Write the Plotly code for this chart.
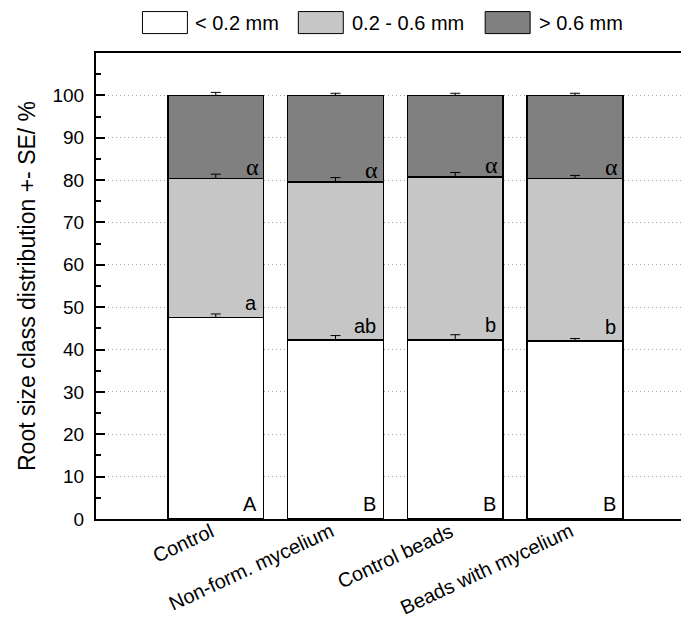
import numpy as np
import plotly.graph_objects as go

# Treatments and root-size-class shares (%), stacked from fine to coarse
treatments = ["Control", "Non-form. mycelium", "Control beads", "Beads with mycelium"]
classes = ["< 0.2 mm", "0.2 - 0.6 mm", "> 0.6 mm"]
fine = [47.6, 42.2, 42.3, 42.0]
medium = [32.8, 37.3, 38.4, 38.4]
coarse = [19.6, 20.5, 19.3, 19.6]
se_fine = [0.8, 1.1, 1.2, 0.6]
se_medium = [1.0, 1.1, 1.1, 0.7]
se_coarse = [0.7, 0.5, 0.5, 0.5]

# Significance letters
letters_total = ["A", "B", "B", "B"]
letters_fine = ["a", "ab", "b", "b"]
letters_coarse = ["\u03b1", "\u03b1", "\u03b1", "\u03b1"]

colors = ["#ffffff", "#c6c6c6", "#808080"]
FONT = "Liberation Sans, Arial, sans-serif"

series = [fine, medium, coarse]
errors = [se_fine, se_medium, se_coarse]
x_idx = list(range(len(treatments)))

fig = go.Figure()
for name, vals, col in zip(classes, series, colors):
    fig.add_trace(go.Bar(
        x=x_idx, y=vals, name=name, width=0.8,
        marker=dict(color=col, line=dict(color="#000000", width=1.5)),
        showlegend=False,
    ))

# Upward error bars at the top of each stacked segment (drawn above the bars)
tops = np.cumsum(np.array(series), axis=0)
for top, se in zip(tops, errors):
    fig.add_trace(go.Scatter(
        x=x_idx, y=top.tolist(), mode="markers",
        marker=dict(size=1, color="rgba(0,0,0,0)"),
        error_y=dict(type="data", symmetric=False, array=se, arrayminus=[0] * len(se),
                     color="#000000", thickness=1, width=5),
        showlegend=False, hoverinfo="skip",
    ))

annotations = []
for i in x_idx:
    annotations.append(dict(x=i + 0.4, y=3.6, xref="x", yref="y", text=letters_total[i],
                            showarrow=False, xanchor="right", yanchor="middle", xshift=-5,
                            font=dict(family=FONT, size=20, color="#000000")))
    annotations.append(dict(x=i + 0.4, y=float(tops[0][i]) + 3.4, xref="x", yref="y",
                            text=letters_fine[i], showarrow=False, xanchor="right",
                            yanchor="middle", xshift=-5,
                            font=dict(family=FONT, size=20, color="#000000")))
    annotations.append(dict(x=i + 0.4, y=float(tops[1][i]) + 2.8, xref="x", yref="y",
                            text=letters_coarse[i], showarrow=False, xanchor="right",
                            yanchor="middle", xshift=-3,
                            font=dict(family="Liberation Serif, Times New Roman, serif",
                                      size=24, color="#000000")))
    # slanted category label hanging below the axis
    annotations.append(dict(x=i, y=0, xref="x", yref="paper", text=treatments[i],
                            showarrow=False, textangle=-25, xanchor="right",
                            yanchor="top", xshift=4, yshift=2,
                            font=dict(family=FONT, size=20, color="#000000")))

# Legend drawn as large swatches above the plot
L, T, H = 95.5, 53.4, 465.6
W = 585.5
def px(xp):
    return (xp - L) / W
def py(yp):
    return (T + H - yp) / H

shapes = []
swatch_left = [142, 298, 485]
text_left = [193, 350, 537]
for sl, tl, name, col in zip(swatch_left, text_left, classes, colors):
    shapes.append(dict(type="rect", xref="paper", yref="paper",
                       x0=px(sl), x1=px(sl + 45), y0=py(34), y1=py(12),
                       fillcolor=col, line=dict(color="#000000", width=1)))
    annotations.append(dict(x=px(tl), y=py(23), xref="paper", yref="paper", text=name,
                            showarrow=False, xanchor="left", yanchor="middle",
                            font=dict(family=FONT, size=20, color="#000000")))

fig.update_layout(
    barmode="stack",
    width=681, height=626,
    margin=dict(l=95.5, r=0, t=53.4, b=107),
    paper_bgcolor="#ffffff", plot_bgcolor="#ffffff",
    font=dict(family=FONT, size=19, color="#000000"),
    shapes=shapes,
    annotations=annotations,
    xaxis=dict(
        range=[-1, 3.885],
        tickmode="array", tickvals=x_idx, ticktext=[""] * len(x_idx),
        ticks="", showgrid=False,
        showline=True, linecolor="#000000", linewidth=2, mirror=True,
        zeroline=False,
    ),
    yaxis=dict(
        range=[0, 110],
        tickvals=list(range(0, 101, 10)),
        ticks="inside", ticklen=9, tickwidth=1.5, tickcolor="#000000",
        minor=dict(ticks="inside", ticklen=5, tickwidth=1.5, tickcolor="#000000",
                   tickvals=list(range(5, 110, 10)), showgrid=False),
        showgrid=True, gridcolor="#a8a8a8", gridwidth=1, griddash="1px,3px",
        showline=True, linecolor="#000000", linewidth=2, mirror=False,
        zeroline=False,
        ticklabelstandoff=6,
        tickfont=dict(family=FONT, size=19),
        title=dict(text="Root size class distribution +- SE/ %", standoff=10,
                   font=dict(family=FONT, size=23)),
    ),
)

fig.write_html("out.html")
